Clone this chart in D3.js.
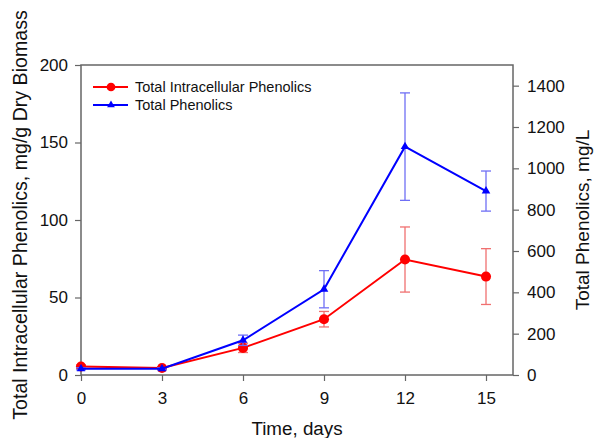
<!DOCTYPE html>
<html>
<head>
<meta charset="utf-8">
<script src="https://cdn.jsdelivr.net/npm/d3@7"></script>
<style>
  html, body { margin: 0; padding: 0; background: #fff; }
  svg { display: block; font-family: Arial, "Liberation Sans", sans-serif; }
</style>
</head>
<body>
<svg id="chart" width="595" height="438"></svg>
<script>
// Sampling days
const days = [0, 3, 6, 9, 12, 15];
// Total intracellular phenolics (mg/g dry biomass), left axis
const intracellular = [5.5, 4.5, 17.5, 36, 74.5, 63.5];
const intracellularErr = [1, 0.8, 3, 5, 21, 18];
// Total phenolics (mg/L), right axis
const totalPhenolics = [30, 30, 168, 415, 1105, 890];
const totalPhenolicsErr = [5, 5, 25, 90, 260, 97];

const xTicks = [0, 3, 6, 9, 12, 15];
const yLeftTicks = [0, 50, 100, 150, 200];
const yRightTicks = [0, 200, 400, 600, 800, 1000, 1200, 1400];

const svg = d3.select("#chart");
const m = { left: 81, right: 513, top: 65, bottom: 375 };

const x = d3.scaleLinear().domain([0, 16]).range([m.left, m.right]);
const yL = d3.scaleLinear().domain([0, 200]).range([m.bottom, m.top]);
const yR = d3.scaleLinear().domain([0, 1500]).range([m.bottom, m.top]);

const axisColor = "#666";
const textColor = "#111";

// Frame
svg.append("rect")
  .attr("x", m.left).attr("y", m.top)
  .attr("width", m.right - m.left).attr("height", m.bottom - m.top)
  .attr("fill", "none").attr("stroke", axisColor).attr("stroke-width", 1.5);

function styleAxis(g) {
  g.select(".domain").remove();
  g.selectAll(".tick line").attr("stroke", axisColor).attr("stroke-width", 1.2);
  g.selectAll(".tick text").attr("fill", textColor).style("font-size", "17px");
}

svg.append("g").attr("transform", `translate(0,${m.bottom})`)
  .call(d3.axisBottom(x).tickValues(xTicks).tickSize(6).tickPadding(11))
  .call(styleAxis);

svg.append("g").attr("transform", `translate(${m.left},0)`)
  .call(d3.axisLeft(yL).tickValues(yLeftTicks).tickSize(6).tickPadding(7))
  .call(styleAxis);

svg.append("g").attr("transform", `translate(${m.right},0)`)
  .call(d3.axisRight(yR).tickValues(yRightTicks).tickFormat(d3.format("d")).tickSize(6).tickPadding(8))
  .call(styleAxis);

// Axis titles
svg.append("text")
  .attr("x", 297).attr("y", 435)
  .attr("text-anchor", "middle").style("font-size", "18.8px").attr("fill", textColor)
  .text("Time, days");

svg.append("text")
  .attr("transform", `translate(27,215) rotate(-90)`)
  .attr("text-anchor", "middle").style("font-size", "19.6px").attr("fill", textColor)
  .text("Total Intracellular Phenolics, mg/g Dry Biomass");

svg.append("text")
  .attr("transform", `translate(589,220) rotate(-90)`)
  .attr("text-anchor", "middle").style("font-size", "19px").attr("fill", textColor)
  .text("Total Phenolics, mg/L");

// Series drawing
function drawSeries(vals, errs, yScale, color, errColor, marker, size) {
  const g = svg.append("g");
  // error bars
  days.forEach((d, i) => {
    const cx = x(d);
    const y1 = yScale(vals[i] + errs[i]);
    const y0 = yScale(vals[i] - errs[i]);
    g.append("line").attr("x1", cx).attr("x2", cx).attr("y1", y1).attr("y2", y0)
      .attr("stroke", errColor).attr("stroke-width", 1.3);
    [y1, y0].forEach(yy => g.append("line")
      .attr("x1", cx - 5).attr("x2", cx + 5).attr("y1", yy).attr("y2", yy)
      .attr("stroke", errColor).attr("stroke-width", 1.3));
  });
  const line = d3.line().x((d, i) => x(days[i])).y(d => yScale(d));
  g.append("path").datum(vals).attr("d", line)
    .attr("fill", "none").attr("stroke", color).attr("stroke-width", 2);
  g.selectAll(".mk").data(vals).enter().append("path")
    .attr("transform", (d, i) => `translate(${x(days[i])},${yScale(d)})`)
    .attr("d", d3.symbol().type(marker).size(size))
    .attr("fill", color);
}

drawSeries(intracellular, intracellularErr, yL, "#ff0000", "#f07070", d3.symbolCircle, 80);
drawSeries(totalPhenolics, totalPhenolicsErr, yR, "#0000ff", "#6f6ff5", d3.symbolTriangle, 32);

// Legend
const legend = [
  { label: "Total Intracellular Phenolics", color: "#ff0000", marker: d3.symbolCircle, size: 60 },
  { label: "Total Phenolics", color: "#0000ff", marker: d3.symbolTriangle, size: 26 }
];
legend.forEach((l, i) => {
  const ly = 87 + i * 18;
  svg.append("line").attr("x1", 93).attr("x2", 128).attr("y1", ly).attr("y2", ly)
    .attr("stroke", l.color).attr("stroke-width", 2);
  svg.append("path").attr("transform", `translate(111,${ly})`)
    .attr("d", d3.symbol().type(l.marker).size(l.size)).attr("fill", l.color);
  svg.append("text").attr("x", 135).attr("y", ly + 5)
    .style("font-size", "14.5px").attr("fill", textColor).text(l.label);
});
</script>
</body>
</html>
